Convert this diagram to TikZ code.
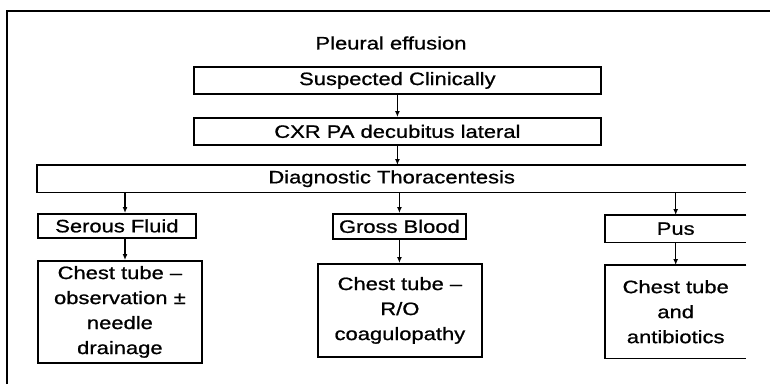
\documentclass[tikz,border=0pt]{standalone}
\usepackage{fontspec}
\setmainfont[FakeStretch=1.22,FakeBold=0.9]{Liberation Sans}
\usetikzlibrary{arrows.meta}
\tikzset{
  txt/.style={inner sep=0pt, align=center, font=\fontsize{18}{25}\selectfont},
  box/.style={txt, draw, line width=1.8pt, anchor=north west},
  openbox/.style={txt, anchor=north west},
  edge3/.style={line width=1.8pt},
  frame/.style={line width=1.5pt},
  conn/.style={line width=1.5pt, -{Latex[length=6pt,width=5pt]}},
}
\begin{document}
\begin{tikzpicture}[x=1pt,y=-1pt]
\useasboundingbox (0,0) rectangle (770,384);
% outer frame (open at right and bottom)
\coordinate (f1) at (7,384);
\coordinate (f2) at (7,11);
\coordinate (f3) at (770,11);
\draw[frame] (f1) -- (f2) -- (f3);
% title
\node[txt] (title) at (391,43) {Pleural effusion};
% boxes
\node[box, minimum width=407pt, minimum height=27pt] (s) at (193,66) {Suspected Clinically};
\node[box, minimum width=407pt, minimum height=27pt] (x) at (193,117) {CXR PA decubitus lateral};
\node[openbox, minimum width=709pt, minimum height=27pt] (d) at (37,165) {Diagnostic Thoracentesis};
\draw[edge3] (d.north east) -- (d.north west) -- (d.south west) -- (d.south east);
\node[box, minimum width=158pt, minimum height=24pt] (sf) at (37,213) {Serous Fluid};
\node[box, minimum width=133pt, minimum height=25pt] (g) at (332,213) {Gross Blood};
\node[openbox, minimum width=141pt, minimum height=27pt] (p) at (605,215) {Pus};
\draw[edge3] (p.north east) -- (p.north west) -- (p.south west) -- (p.south east);
\node[box, minimum width=164pt, minimum height=102pt] (c1) at (37,260) {Chest tube –\\observation ±\\needle\\drainage};
\node[box, minimum width=164pt, minimum height=93pt] (c2) at (317,263) {Chest tube –\\R/O\\coagulopathy};
\node[openbox, minimum width=141pt, minimum height=93pt] (c3) at (605,265) {Chest tube\\and\\antibiotics};
\draw[edge3] (c3.north east) -- (c3.north west) -- (c3.south west) -- (c3.south east);
% connectors
\coordinate (a1) at (125,0);
\draw[conn] (s.south) -- (x.north);
\draw[conn] (x.south) -- (x.south |- d.north);
\draw[conn] (a1 |- d.south) -- (a1 |- sf.north);
\draw[conn] (g.north |- d.south) -- (g.north);
\draw[conn] (p.north |- d.south) -- (p.north);
\draw[conn] (a1 |- sf.south) -- (a1 |- c1.north);
\draw[conn] (g.south) -- (g.south |- c2.north);
\draw[conn] (p.south) -- (p.south |- c3.north);
\end{tikzpicture}
\end{document}
